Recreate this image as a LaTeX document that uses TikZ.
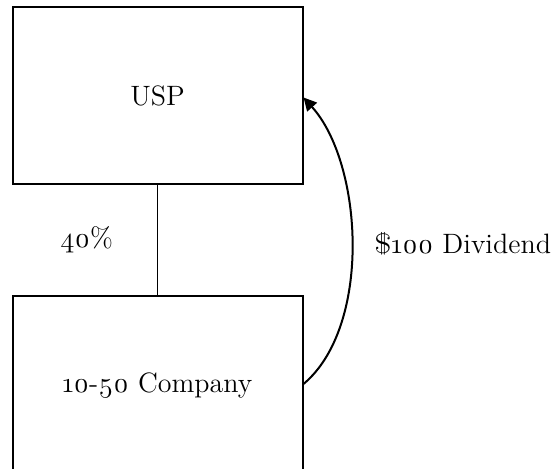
\documentclass[tikz,border=0pt]{standalone}
\usepackage{fontspec}
\setmainfont{Latin Modern Roman}[Numbers=OldStyle]
\usepackage{tikz}
\usetikzlibrary{positioning,arrows.meta}
\tikzset{
  entity/.style={rectangle, draw=black, line width=1pt, fill=white,
                 minimum width=145pt, minimum height=88.5pt, align=center,
                 font=\fontsize{14}{17}\selectfont},
  own/.style={draw=black, line width=0.6pt},
  flow/.style={-{Triangle[length=6.5pt,width=6.5pt]}, draw=black, line width=1pt},
  lbl/.style={font=\fontsize{14}{17}\selectfont, inner sep=1pt},
}
\begin{document}
\begin{tikzpicture}[x=0.5pt,y=-0.5pt]
  \useasboundingbox (0,0) rectangle (560,469);
  \node[entity] (usp) at (157.5,95.5) {USP};
  \node[entity, minimum height=90pt, below=55pt of usp] (cmp) {10-50 Company};

  % ownership and dividend
  \draw[own] (usp.south) -- node[lbl,left=21pt]{40\%} (cmp.north);
  \draw[flow] ([yshift=1pt]cmp.east) to[out=40,in=-48,looseness=0.8]
        node[lbl,right=10pt,pos=0.5]{\$100 Dividend} ([yshift=-1pt]usp.east);
\end{tikzpicture}
\end{document}
